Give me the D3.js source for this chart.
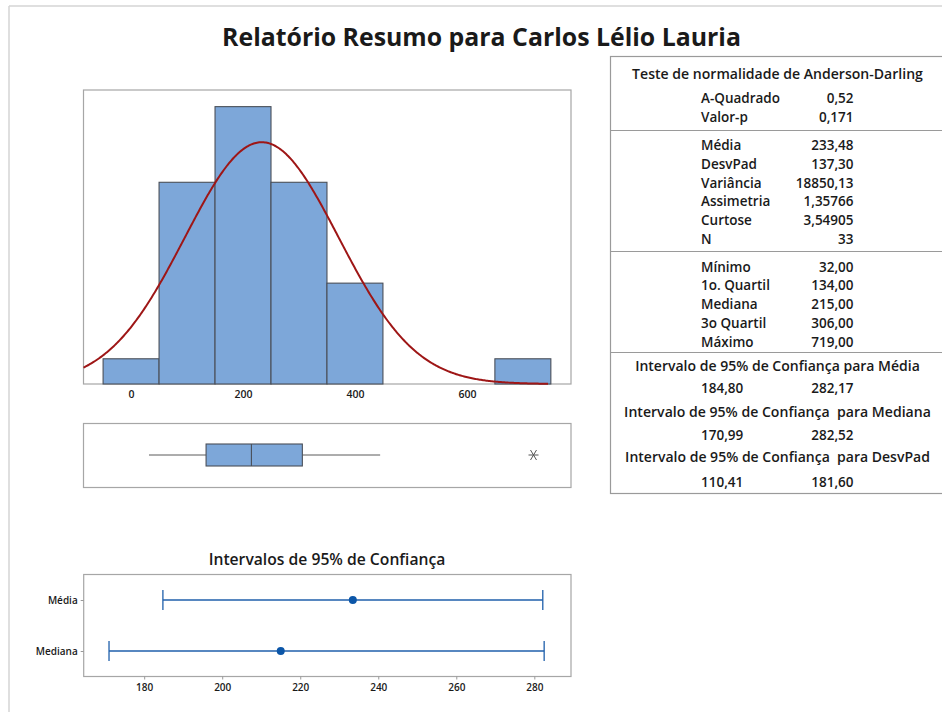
<!DOCTYPE html>
<meta charset="utf-8">
<style>
body { margin: 0; background: #fff; }
svg { font-family: "Open Sans", sans-serif; }
.frame { fill: none; stroke: #a6a6a6; stroke-width: 1.2; }
.lbl { fill: #1a1a1a; font-weight: 600; }
</style>
<body>
<script src="https://cdnjs.cloudflare.com/ajax/libs/d3/7.8.5/d3.min.js"></script>
<script>

// histogram bins (lower edge, width 100) and counts
var binLower = [-50, 50, 150, 250, 350, 450, 550, 650],
    binCount = [1, 8, 11, 8, 4, 0, 0, 1],
    binWidth = 100;
var histTicks = [0, 200, 400, 600];

// summary stats
var mean = 233.48, sd = 137.30, n = 33;

// boxplot
var q1 = 134, median = 215, q3 = 306, whiskLo = 32, whiskHi = 445, outliers = [719];

// confidence intervals
var ciNames = ["Média", "Mediana"],
    ciCenter = [233.48, 215.00],
    ciLow = [184.80, 170.99],
    ciHigh = [282.17, 282.52];
var ciTicks = [180, 200, 220, 240, 260, 280];

// table texts
var adTitle = "Teste de normalidade de Anderson-Darling",
    adLabels = ["A-Quadrado", "Valor-p"],
    adValues = ["0,52", "0,171"];
var descLabels = ["Média", "DesvPad", "Variância", "Assimetria", "Curtose", "N"],
    descValues = ["233,48", "137,30", "18850,13", "1,35766", "3,54905", "33"];
var quartLabels = ["Mínimo", "1o. Quartil", "Mediana", "3o Quartil", "Máximo"],
    quartValues = ["32,00", "134,00", "215,00", "306,00", "719,00"];
var ciTitles = ["Intervalo de 95% de Confiança para Média",
                "Intervalo de 95% de Confiança  para Mediana",
                "Intervalo de 95% de Confiança  para DesvPad"],
    ciTableLow = ["184,80", "170,99", "110,41"],
    ciTableHigh = ["282,17", "282,52", "181,60"];

var svg = d3.select("body").append("svg").attr("width", 942).attr("height", 712);

// shrink/grow font so text fits a given width
function fit(sel, w) {
  sel.each(function() {
    var len = this.getComputedTextLength();
    var fs = parseFloat(d3.select(this).style("font-size"));
    d3.select(this).style("font-size", (fs * w / len) + "px");
  });
}

// outer page lines
svg.append("line").attr("x1", 9).attr("x2", 9).attr("y1", 6).attr("y2", 712)
   .style("stroke", "#d4d4d4").style("stroke-width", 1.5);
svg.append("line").attr("x1", 9).attr("x2", 942).attr("y1", 6).attr("y2", 6)
   .style("stroke", "#d4d4d4").style("stroke-width", 1.5);

// title
svg.append("text").attr("class", "lbl")
   .attr("x", 481.5).attr("y", 46).attr("text-anchor", "middle")
   .style("font-size", "26px").style("font-weight", 700)
   .text("Relatório Resumo para Carlos Lélio Lauria")
   .call(fit, 519);

// ---------- histogram ----------
var hx = d3.scaleLinear().domain([-85, 786]).range([83.5, 571]);
var hy = d3.scaleLinear().domain([0, 11.66]).range([384, 90]);

var hist = svg.append("g");
hist.append("rect").attr("class", "frame")
    .attr("x", 83.5).attr("y", 90).attr("width", 571 - 83.5).attr("height", 294);

hist.selectAll(".bar").data(binLower.map(function(d, i) { return {x0: d, c: binCount[i]}; }))
  .enter().append("rect").attr("class", "bar")
    .attr("x", function(d) { return hx(d.x0); })
    .attr("width", function(d) { return hx(d.x0 + binWidth) - hx(d.x0); })
    .attr("y", function(d) { return hy(d.c); })
    .attr("height", function(d) { return hy(0) - hy(d.c); })
    .style("fill", "#7da7d9")
    .style("stroke", function(d) { return d.c ? "#4a4f58" : "#b8c6d8"; })
    .style("stroke-width", 1.1);

// fitted normal curve
var pts = d3.range(-85, 746, 2).map(function(v) {
  var z = (v - mean) / sd;
  return [v, n * binWidth * Math.exp(-0.5 * z * z) / (sd * Math.sqrt(2 * Math.PI))];
});
hist.append("path").datum(pts)
    .attr("d", d3.line().x(function(d) { return hx(d[0]); }).y(function(d) { return hy(d[1]); }))
    .style("fill", "none").style("stroke", "#9e1616").style("stroke-width", 2);

var hax = hist.append("g").attr("transform", "translate(0,384)")
    .call(d3.axisBottom(hx).tickValues(histTicks).tickSize(0).tickPadding(7));
hax.select(".domain").remove();
hax.selectAll("text").attr("class", "lbl").style("font-size", "10.5px").style("font-family", "Open Sans");

// ---------- boxplot ----------
var box = svg.append("g");
box.append("rect").attr("class", "frame")
   .attr("x", 83.5).attr("y", 423.5).attr("width", 571 - 83.5).attr("height", 64);
var by = 455, bh = 22;
box.append("line").attr("x1", hx(whiskLo)).attr("x2", hx(q1)).attr("y1", by).attr("y2", by)
   .style("stroke", "#5a5a5a");
box.append("line").attr("x1", hx(q3)).attr("x2", hx(whiskHi)).attr("y1", by).attr("y2", by)
   .style("stroke", "#5a5a5a");
box.append("rect").attr("x", hx(q1)).attr("width", hx(q3) - hx(q1))
   .attr("y", by - bh / 2).attr("height", bh)
   .style("fill", "#7da7d9").style("stroke", "#4a4f58").style("stroke-width", 1.1);
box.append("line").attr("x1", hx(median)).attr("x2", hx(median))
   .attr("y1", by - bh / 2).attr("y2", by + bh / 2).style("stroke", "#4a4f58").style("stroke-width", 1.1);
outliers.forEach(function(o) {
  var cx = hx(o);
  [[-5, 0, 5, 0], [-3, -5, 3, 5], [-3, 5, 3, -5]].forEach(function(s) {
    box.append("line").attr("x1", cx + s[0]).attr("y1", by + s[1]).attr("x2", cx + s[2]).attr("y2", by + s[3])
       .style("stroke", "#555").style("stroke-width", 1);
  });
});

// ---------- confidence intervals ----------
var cx = d3.scaleLinear().domain([164.5, 289.4]).range([83.7, 571]);
var cy = d3.scalePoint().domain(ciNames).range([574.5, 676.5]).padding(0.5);

var ci = svg.append("g");
ci.append("text").attr("class", "lbl")
  .attr("x", 327).attr("y", 565).attr("text-anchor", "middle")
  .style("font-size", "15px")
  .text("Intervalos de 95% de Confiança")
  .call(fit, 237);
ci.append("rect").attr("class", "frame")
  .attr("x", 83.7).attr("y", 574.5).attr("width", 571 - 83.7).attr("height", 102);

var cax = ci.append("g").attr("transform", "translate(0,676.5)")
    .call(d3.axisBottom(cx).tickValues(ciTicks).tickSize(3).tickPadding(4));
cax.select(".domain").remove();
cax.selectAll("line").style("stroke", "#999");
cax.selectAll("text").attr("class", "lbl").style("font-size", "10px").style("font-family", "Open Sans");

var cay = ci.append("g").attr("transform", "translate(83.7,0)")
    .call(d3.axisLeft(cy).tickSize(3).tickPadding(3));
cay.select(".domain").remove();
cay.selectAll("line").style("stroke", "#999");
cay.selectAll("text").attr("class", "lbl").style("font-size", "10px").style("font-family", "Open Sans");

ciNames.forEach(function(name, i) {
  var y = cy(name);
  ci.append("line").attr("x1", cx(ciLow[i])).attr("x2", cx(ciHigh[i])).attr("y1", y).attr("y2", y)
    .style("stroke", "#1f5fab").style("stroke-width", 1.3);
  [ciLow[i], ciHigh[i]].forEach(function(v) {
    ci.append("line").attr("x1", cx(v)).attr("x2", cx(v)).attr("y1", y - 10).attr("y2", y + 10)
      .style("stroke", "#1f5fab").style("stroke-width", 1.3);
  });
  ci.append("circle").attr("cx", cx(ciCenter[i])).attr("cy", y).attr("r", 4)
    .style("fill", "#0b56a8");
});

// ---------- stats table ----------
var tb = svg.append("g").style("font-size", "13.5px");
tb.append("rect").attr("x", 610.5).attr("y", 56.5).attr("width", 340).attr("height", 437)
  .style("fill", "none").style("stroke", "#9a9a9a").style("stroke-width", 1.2);
[130.5, 251.5, 352.5].forEach(function(y) {
  tb.append("line").attr("x1", 610.5).attr("x2", 942).attr("y1", y).attr("y2", y)
    .style("stroke", "#9a9a9a").style("stroke-width", 1.2);
});

var labX = 701, valX = 853.5, midX = 777.5;

function rows(labels, values, y0, step) {
  labels.forEach(function(l, i) {
    tb.append("text").attr("class", "lbl").attr("x", labX).attr("y", y0 + i * step).text(l);
    tb.append("text").attr("class", "lbl").attr("x", valX).attr("y", y0 + i * step)
      .attr("text-anchor", "end").text(values[i]);
  });
}

tb.append("text").attr("class", "lbl").attr("x", midX).attr("y", 79)
  .attr("text-anchor", "middle").text(adTitle).call(fit, 291);
rows(adLabels, adValues, 103.3, 18.5);
rows(descLabels, descValues, 150, 18.8);
rows(quartLabels, quartValues, 271.7, 18.75);

var ciTitleY = [370.7, 416.7, 462.3], ciValY = [393.3, 440, 486.7], ciTitleW = [285, 307, 305];
ciTitles.forEach(function(t, i) {
  tb.append("text").attr("class", "lbl").attr("x", midX).attr("y", ciTitleY[i])
    .attr("text-anchor", "middle").style("white-space", "pre").text(t).call(fit, ciTitleW[i]);
  tb.append("text").attr("class", "lbl").attr("x", labX).attr("y", ciValY[i]).text(ciTableLow[i]);
  tb.append("text").attr("class", "lbl").attr("x", valX).attr("y", ciValY[i])
    .attr("text-anchor", "end").text(ciTableHigh[i]);
});

</script>
</body>
